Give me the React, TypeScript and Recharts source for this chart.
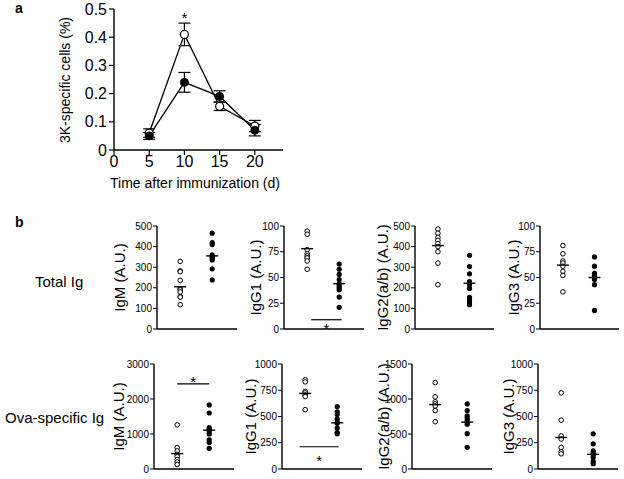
import React from 'react'
import {
  ErrorBar,
  Line,
  LineChart,
  ReferenceDot,
  ReferenceLine,
  Scatter,
  ScatterChart,
  XAxis,
  YAxis,
} from 'recharts'

const FONT = '"Liberation Sans", Arial, sans-serif'

// panel a: time course
const days = [5, 10, 15, 20]
const openPct = [0.06, 0.41, 0.155, 0.085]
const openErr = [0.015, 0.04, 0.015, 0.02]
const filledPct = [0.05, 0.24, 0.19, 0.07]
const filledErr = [0.012, 0.035, 0.02, 0.02]
const dayTicks = [0, 5, 10, 15, 20]
const pctTicks = [0, 0.1, 0.2, 0.3, 0.4, 0.5]

// panel b: total Ig
const totalIgMOpen = [328, 282, 278, 236, 195, 190, 180, 157, 155, 118]
const totalIgMFilled = [465, 420, 410, 360, 350, 345, 335, 292, 238]
const totalIgMMeans = [205, 355]
const totalIgG1Open = [95, 92, 77, 73, 71, 69, 69, 66, 58]
const totalIgG1Filled = [63, 58, 53, 48, 44, 42, 40, 38, 31, 21]
const totalIgG1Means = [78, 44]
const totalIgG2Open = [485, 465, 445, 430, 415, 400, 375, 320, 215]
const totalIgG2Filled = [358, 303, 268, 230, 215, 197, 154, 142, 131, 118]
const totalIgG2Means = [405, 222]
const totalIgG3Open = [81, 73, 66, 64, 61, 56, 52, 36]
const totalIgG3Filled = [70, 61, 54, 52, 50, 48, 43, 18]
const totalIgG3Means = [62, 50]

// panel b: ova-specific Ig
const ovaIgMOpen = [1260, 610, 515, 420, 350, 270, 200, 130]
const ovaIgMFilled = [1830, 1600, 1185, 1140, 1075, 1000, 835, 760, 590]
const ovaIgMMeans = [440, 1110]
const ovaIgG1Open = [850, 830, 740, 725, 705, 690, 565]
const ovaIgG1Filled = [595, 545, 520, 475, 445, 435, 390, 350, 335]
const ovaIgG1Means = [720, 440]
const ovaIgG2Open = [1235, 1030, 960, 930, 900, 835, 675]
const ovaIgG2Filled = [930, 835, 760, 730, 700, 665, 640, 505, 310]
const ovaIgG2Means = [920, 670]
const ovaIgG3Open = [725, 465, 315, 285, 205, 165, 145]
const ovaIgG3Filled = [335, 240, 172, 150, 135, 110, 72, 50]
const ovaIgG3Means = [300, 140]

const ticks100 = [0, 25, 50, 75, 100]
const ticks500 = [0, 100, 200, 300, 400, 500]
const ticks1000 = [0, 250, 500, 750, 1000]
const ticks1500 = [0, 500, 1000, 1500]
const ticks3000 = [0, 1000, 2000, 3000]

// significance bars: [bar level, asterisk level]
const sigTotalIgG1 = [9, 0]
const sigOvaIgM = [2430, 2490]
const sigOvaIgG1 = [212, 79]

const groupX = [0.29, 0.69]

const timeData = days.map((d, i) => ({
  day: d,
  open: openPct[i],
  openErr: openErr[i],
  filled: filledPct[i],
  filledErr: filledErr[i],
}))

const rows = [
  { top: 226, bottom: 329 },
  { top: 364, bottom: 469 },
]

const YW = 60

const panels = [
  { title: 'IgM (A.U.)', row: 0, axisX: 157, rightX: 237, titleX: 119, ticks: ticks500, open: totalIgMOpen, filled: totalIgMFilled, means: totalIgMMeans },
  { title: 'IgG1 (A.U.)', row: 0, axisX: 284, rightX: 364, titleX: 255, ticks: ticks100, open: totalIgG1Open, filled: totalIgG1Filled, means: totalIgG1Means, sig: sigTotalIgG1, sigX: [0.34, 0.72] },
  { title: 'IgG2(a/b) (A.U.)', row: 0, axisX: 415, rightX: 494, titleX: 382, ticks: ticks500, open: totalIgG2Open, filled: totalIgG2Filled, means: totalIgG2Means },
  { title: 'IgG3 (A.U.)', row: 0, axisX: 540, rightX: 619, titleX: 513, ticks: ticks100, open: totalIgG3Open, filled: totalIgG3Filled, means: totalIgG3Means },
  { title: 'IgM (A.U.)', row: 1, axisX: 154, rightX: 234, titleX: 118, ticks: ticks3000, open: ovaIgMOpen, filled: ovaIgMFilled, means: ovaIgMMeans, sig: sigOvaIgM, sigX: [0.29, 0.69] },
  { title: 'IgG1 (A.U.)', row: 1, axisX: 282, rightX: 362, titleX: 250, ticks: ticks1000, open: ovaIgG1Open, filled: ovaIgG1Filled, means: ovaIgG1Means, sig: sigOvaIgG1, sigX: [0.22, 0.71] },
  { title: 'IgG2(a/b) (A.U.)', row: 1, axisX: 412, rightX: 492, titleX: 383, ticks: ticks1500, open: ovaIgG2Open, filled: ovaIgG2Filled, means: ovaIgG2Means },
  { title: 'IgG3 (A.U.)', row: 1, axisX: 538, rightX: 618, titleX: 508, ticks: ticks1000, open: ovaIgG3Open, filled: ovaIgG3Filled, means: ovaIgG3Means },
]

const openDot = (props: any) => (
  <circle cx={props.cx} cy={props.cy} r={2.3} fill="#fff" stroke="#000" strokeWidth={1} />
)
const filledDot = (props: any) => (
  <circle cx={props.cx} cy={props.cy} r={2.6} fill="#000" />
)
const meanBar = (props: any) => (
  <line x1={props.cx - 6} x2={props.cx + 6} y1={props.cy} y2={props.cy} stroke="#000" strokeWidth={1.4} />
)

const rotatedTitle = (text: string, x: number, y: number, size: number) => ({
  content: () => (
    <text
      x={x}
      y={y}
      transform={`rotate(-90 ${x} ${y})`}
      textAnchor="middle"
      dominantBaseline="central"
      fontSize={size}
      fontFamily={FONT}
      fill="#000"
    >
      {text}
    </text>
  ),
})

function TimeCourse() {
  return (
    <div style={{ position: 'absolute', left: 0, top: 0 }}>
      <LineChart width={300} height={200} data={timeData} margin={{ top: 9, right: 17, bottom: 0, left: 0 }}>
        <XAxis
          type="number"
          dataKey="day"
          domain={[0, 24]}
          ticks={dayTicks}
          interval={0}
          height={50}
          tick={{ fontSize: 16, fill: '#000', fontFamily: FONT }}
          tickSize={5}
          tickMargin={1}
          axisLine={{ stroke: '#000', strokeWidth: 1.4 }}
          tickLine={{ stroke: '#000', strokeWidth: 1.2 }}
          label={{
            content: () => (
              <text x={195} y={183} textAnchor="middle" dominantBaseline="central" fontSize={14} fontFamily={FONT} fill="#000">
                Time after immunization (d)
              </text>
            ),
          }}
        />
        <YAxis
          type="number"
          domain={[0, 0.5]}
          ticks={pctTicks}
          interval={0}
          width={114}
          tick={{ fontSize: 16, fill: '#000', fontFamily: FONT }}
          tickSize={5}
          tickMargin={2}
          axisLine={{ stroke: '#000', strokeWidth: 1.4 }}
          tickLine={{ stroke: '#000', strokeWidth: 1.2 }}
          label={rotatedTitle('3K-specific cells (%)', 65, 80, 14)}
        />
        <Line
          dataKey="open"
          stroke="#000"
          strokeWidth={1.3}
          dot={{ r: 4, fill: '#fff', stroke: '#000', strokeWidth: 1.2 }}
          activeDot={false}
          isAnimationActive={false}
        >
          <ErrorBar dataKey="openErr" width={6} stroke="#000" strokeWidth={1.2} />
        </Line>
        <Line
          dataKey="filled"
          stroke="#000"
          strokeWidth={1.3}
          dot={{ r: 4, fill: '#000', stroke: '#000', strokeWidth: 1 }}
          activeDot={false}
          isAnimationActive={false}
        >
          <ErrorBar dataKey="filledErr" width={6} stroke="#000" strokeWidth={1.2} />
        </Line>
        <ReferenceDot
          x={10}
          y={0.468}
          r={1}
          fill="none"
          stroke="none"
          label={{ value: '*', position: 'center', fontSize: 15, fill: '#000', fontFamily: FONT }}
        />
      </LineChart>
    </div>
  )
}

function DotPanel({ p }: { p: any }) {
  const { top, bottom } = rows[p.row]
  const mt = 8
  const mb = 12
  const left = p.axisX - YW
  const width = p.rightX - left + 4
  const height = bottom - top + mt + mb
  const cy = mt + (bottom - top) / 2
  const yMax = p.ticks[p.ticks.length - 1]
  const openData = p.open.map((v: number) => ({ x: groupX[0], y: v }))
  const filledData = p.filled.map((v: number) => ({ x: groupX[1], y: v }))
  const meanData = p.means.map((v: number, i: number) => ({ x: groupX[i], y: v }))
  return (
    <div style={{ position: 'absolute', left, top: top - mt }}>
      <ScatterChart width={width} height={height} margin={{ top: mt, right: 4, bottom: mb, left: 0 }}>
        <XAxis type="number" dataKey="x" domain={[0, 1]} hide />
        <YAxis
          type="number"
          dataKey="y"
          domain={[0, yMax]}
          ticks={p.ticks}
          interval={0}
          width={YW}
          tick={{ fontSize: 10, fill: '#000', fontFamily: FONT }}
          tickSize={4}
          tickMargin={1}
          axisLine={{ stroke: '#000', strokeWidth: 1.4 }}
          tickLine={{ stroke: '#000', strokeWidth: 1 }}
          label={rotatedTitle(p.title, p.titleX - left, cy, 15)}
        />
        <ReferenceLine y={0} stroke="#000" strokeWidth={1.4} />
        <Scatter data={openData} shape={openDot} isAnimationActive={false} />
        <Scatter data={filledData} shape={filledDot} isAnimationActive={false} />
        <Scatter data={meanData} shape={meanBar} isAnimationActive={false} />
        {p.sig && (
          <ReferenceLine
            segment={[
              { x: p.sigX[0], y: p.sig[0] },
              { x: p.sigX[1], y: p.sig[0] },
            ]}
            stroke="#000"
            strokeWidth={1.2}
          />
        )}
        {p.sig && (
          <ReferenceDot
            x={(p.sigX[0] + p.sigX[1]) / 2}
            y={p.sig[1]}
            r={1}
            fill="none"
            stroke="none"
            label={{ value: '*', position: 'center', fontSize: 15, fill: '#000', fontFamily: FONT }}
          />
        )}
      </ScatterChart>
    </div>
  )
}

export default function App() {
  return (
    <div
      style={{
        position: 'absolute',
        left: 0,
        top: 0,
        width: 624,
        height: 479,
        background: '#fff',
        fontFamily: FONT,
        color: '#000',
      }}
    >
      <div style={{ position: 'absolute', left: 15, top: 0, fontSize: 14, fontWeight: 'bold' }}>a</div>
      <div style={{ position: 'absolute', left: 15, top: 214, fontSize: 14, fontWeight: 'bold' }}>b</div>
      <div style={{ position: 'absolute', left: 35, top: 273, fontSize: 15 }}>Total Ig</div>
      <div style={{ position: 'absolute', left: 5, top: 409, fontSize: 15 }}>Ova-specific Ig</div>
      <TimeCourse />
      {panels.map((p, i) => (
        <DotPanel key={i} p={p} />
      ))}
    </div>
  )
}
